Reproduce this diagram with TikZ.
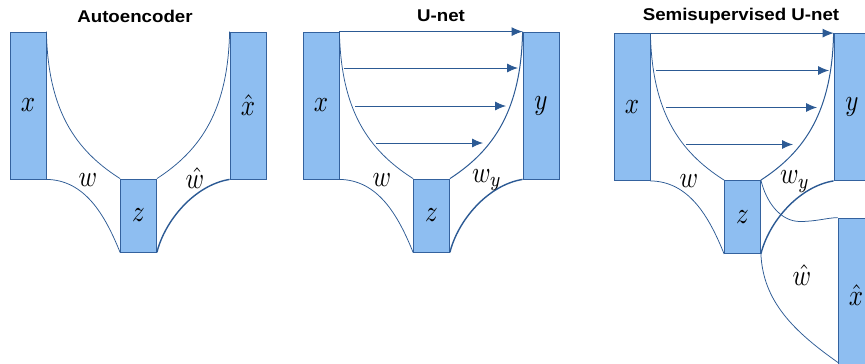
\documentclass[tikz,border=0pt]{standalone}
\usepackage{fontspec}
\usepackage{graphicx}
\usetikzlibrary{arrows.meta,calc}
\newfontfamily\titlefont{Liberation Sans}
\definecolor{boxfill}{RGB}{142,190,241}
\definecolor{boxline}{RGB}{52,98,158}
\definecolor{curvecol}{RGB}{44,90,148}
\newcommand{\biglab}[1]{\scalebox{2.5}[3]{$#1$}}
\tikzset{
  blk/.style={draw=boxline, fill=boxfill, line width=0.8pt, minimum width=36pt, inner sep=0pt},
  wire/.style={draw=curvecol, line width=0.75pt},
  wiremid/.style={draw=curvecol, line width=1pt},
  wirebold/.style={draw=curvecol, line width=1.4pt},
  arr/.style={draw=curvecol, line width=0.9pt, -{Latex[length=11pt,width=9pt]}},
  ttl/.style={font=\titlefont\bfseries\fontsize{17}{20}\selectfont, inner sep=0pt},
  lab/.style={inner sep=0pt}
}
\begin{document}
\begin{tikzpicture}[x=1pt,y=-1pt]
\useasboundingbox (0,0) rectangle (865,364);
\clip (0,0) rectangle (865,364);
\fill[white] (0,0) rectangle (865,364);

% ---------------- Autoencoder ----------------
\node[ttl] (t1) at (135,16) {\scalebox{1.1}[1]{Autoencoder}};
\node[blk, minimum height=147pt] (a-x) at (28,105.5) {\biglab{x}};
\node[blk, minimum height=73pt] (a-z) at (138.5,215.5) {\biglab{z}};
\node[blk, minimum height=147pt] (a-xh) at (248,105.5) {\biglab{\hat{x}}};
\draw[wire] (a-x.north east) .. controls (48,110) and (75,150) .. (a-z.north west);
\draw[wire] (a-x.south east) .. controls (85,180) and (105,215) .. (a-z.south west);
\draw[wire] (a-z.north east) .. controls (201,150) and (228,110) .. (a-xh.north west);
\draw[wirebold] (a-z.south east) .. controls (165,220) and (195,185) .. (a-xh.south west);
\node[lab] (a-w) at (88,180) {\biglab{w}};
\node[lab] (a-wh) at (195,178) {\biglab{\hat{w}}};

% ---------------- U-net ----------------
\begin{scope}[xshift=293pt]
\node[ttl] (t2) at (148,16) {\scalebox{1.1}[1]{U-net}};
\node[blk, minimum height=147pt] (u-x) at (28,105.5) {\biglab{x}};
\node[blk, minimum height=73pt] (u-z) at (138.5,215.5) {\biglab{z}};
\node[blk, minimum height=147pt] (u-y) at (248,105.5) {\biglab{y}};
\draw[wire] (u-x.north east) .. controls (48,110) and (75,150) .. (u-z.north west);
\draw[wire] (u-x.south east) .. controls (85,180) and (105,215) .. (u-z.south west);
\draw[wiremid] (u-z.north east) .. controls (201,150) and (228,110) .. (u-y.north west);
\draw[wirebold] (u-z.south east) .. controls (165,220) and (195,185) .. (u-y.south west);
\coordinate (u-l1) at (51,68);  \coordinate (u-r1) at (225,68);
\coordinate (u-l2) at (62,106); \coordinate (u-r2) at (213,106);
\coordinate (u-l3) at (83,143); \coordinate (u-r3) at (190,143);
\draw[arr] (u-x.north east) -- (u-y.north west);
\draw[arr] (u-l1) -- (u-r1);
\draw[arr] (u-l2) -- (u-r2);
\draw[arr] (u-l3) -- (u-r3);
\node[lab] (u-w) at (89,180) {\biglab{w}};
\node[lab] (u-wy) at (194,180) {\biglab{w_y}};
\end{scope}

% ---------------- Semisupervised U-net ----------------
\begin{scope}[xshift=604pt, yshift=-1.5pt]
\node[ttl] (t3) at (137,14.5) {\scalebox{1.1}[1]{Semisupervised U-net}};
\node[blk, minimum height=147pt] (s-x) at (28,105.5) {\biglab{x}};
\node[blk, minimum height=73pt] (s-z) at (138.5,215.5) {\biglab{z}};
\node[blk, minimum height=147pt] (s-y) at (248,105.5) {\biglab{y}};
\node[blk, minimum height=154pt] (s-xh) at (252,293.5) {\biglab{\hat{x}}};
\draw[wire] (s-x.north east) .. controls (48,110) and (75,150) .. (s-z.north west);
\draw[wire] (s-x.south east) .. controls (85,180) and (105,215) .. (s-z.south west);
\draw[wiremid] (s-z.north east) .. controls (201,150) and (228,110) .. (s-y.north west);
\coordinate (s-c) at (196,220);
\draw[wire] (s-z.north east) .. controls (162,200) and (176,220) .. (s-c)
   .. controls (212,220) and (222,216.5) .. (s-xh.north west);
\coordinate (s-e) at (234,361);
\draw[wire] (s-z.south east) .. controls (159,300) and (190,330) .. (s-e);
\draw[wirebold] (s-z.south east) .. controls (165,220) and (195,185) .. (s-y.south west);
\coordinate (s-l1) at (52,69);  \coordinate (s-r1) at (225,69);
\coordinate (s-l2) at (62,106); \coordinate (s-r2) at (213,106);
\coordinate (s-l3) at (82,143); \coordinate (s-r3) at (189,143);
\draw[arr] (s-x.north east) -- (s-y.north west);
\draw[arr] (s-l1) -- (s-r1);
\draw[arr] (s-l2) -- (s-r2);
\draw[arr] (s-l3) -- (s-r3);
\node[lab] (s-w) at (85,180) {\biglab{w}};
\node[lab] (s-wy) at (191,180) {\biglab{w_y}};
\node[lab] (s-wh) at (198,273.5) {\biglab{\hat{w}}};
\end{scope}
\end{tikzpicture}
\end{document}
